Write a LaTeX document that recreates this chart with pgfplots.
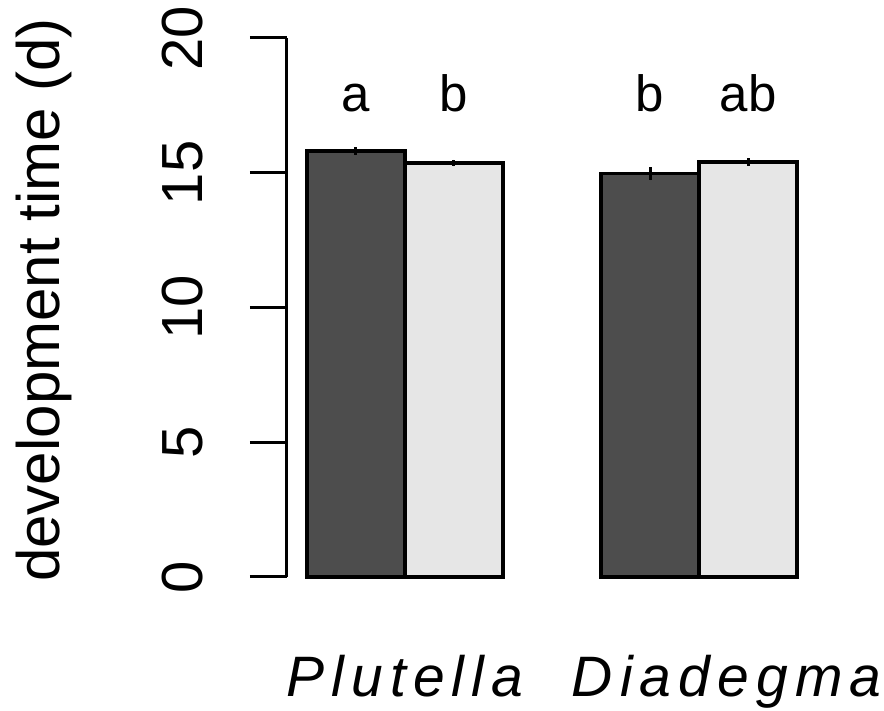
\documentclass[border=0pt]{standalone}
\usepackage{fontspec}
\setmainfont{Liberation Sans}
\newfontfamily\catfont[LetterSpace=12.5]{Liberation Sans}
\usepackage{pgfplots}
\pgfplotsset{compat=1.18}
\definecolor{darkbar}{HTML}{4D4D4D}
\definecolor{lightbar}{HTML}{E6E6E6}
\begin{document}
\begin{tikzpicture}
\useasboundingbox (-287pt,-134pt) rectangle (597pt,577pt);
\begin{axis}[
  at={(0pt,0pt)}, anchor=south west,
  scale only axis, width=530pt, height=539pt,
  xmin=0.8, xmax=6.2, ymin=0, ymax=20,
  axis x line=none, axis y line*=left,
  ytick={0,5,10,15,20},
  tick align=outside, major tick length=37pt,
  every tick/.style={line width=3pt, black},
  axis line style={line width=3pt, black},
  /pgf/number format/assume math mode=true,
  yticklabel style={rotate=90, anchor=south, inner sep=0pt, font=\fontsize{58}{58}\selectfont},
  yticklabel shift=47pt,
  ylabel={development time (d)},
  ylabel style={at={(axis description cs:-0.4283,0.514)}, anchor=base, inner sep=0pt, font=\fontsize{60}{60}\selectfont},
  clip=false,
]
\addplot[ybar, bar shift=0pt, bar width=1, fill=darkbar, draw=black, line width=3.8pt,
  error bars/.cd, y dir=both, y explicit, error mark=none, error bar style={line width=3pt, black}]
  coordinates {(1.5,15.80) +- (0,0.15) (4.5,14.97) +- (0,0.24)};
\addplot[ybar, bar shift=0pt, bar width=1, fill=lightbar, draw=black, line width=3.8pt,
  error bars/.cd, y dir=both, y explicit, error mark=none, error bar style={line width=3pt, black}]
  coordinates {(2.5,15.36) +- (0,0.12) (5.5,15.40) +- (0,0.14)};
\begin{scope}[font=\fontsize{51}{51}\selectfont]
\node[anchor=base] at (axis cs:1.5,17.29) {a};
\node[anchor=base] at (axis cs:2.5,17.29) {b};
\node[anchor=base] at (axis cs:4.5,17.29) {b};
\node[anchor=base] at (axis cs:5.5,17.29) {ab};
\end{scope}
\begin{scope}[font=\fontsize{57}{57}\selectfont\catfont\itshape]
\node[anchor=base, inner sep=0pt] at (axis cs:2.0,-4.45) {Plutella};
\node[anchor=base, inner sep=0pt] at (axis cs:5.28,-4.45) {Diadegma};
\end{scope}
\end{axis}
\end{tikzpicture}
\end{document}
